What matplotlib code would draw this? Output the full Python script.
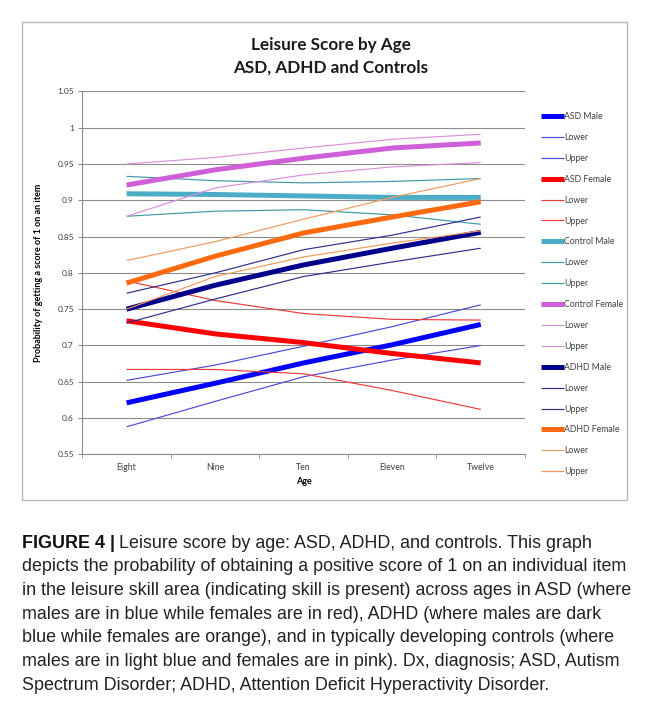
import matplotlib
matplotlib.use("Agg")
import matplotlib.pyplot as plt
from matplotlib.patches import Rectangle

ages = ["Eight", "Nine", "Ten", "Eleven", "Twelve"]

asd_male = [0.621, 0.648, 0.676, 0.701, 0.729]
asd_male_lower = [0.588, 0.623, 0.657, 0.680, 0.700]
asd_male_upper = [0.652, 0.673, 0.699, 0.726, 0.756]
asd_female = [0.734, 0.716, 0.704, 0.689, 0.676]
asd_female_lower = [0.667, 0.667, 0.661, 0.638, 0.612]
asd_female_upper = [0.789, 0.762, 0.744, 0.736, 0.735]
control_male = [0.909, 0.908, 0.906, 0.904, 0.904]
control_male_lower = [0.878, 0.885, 0.887, 0.880, 0.867]
control_male_upper = [0.933, 0.927, 0.924, 0.926, 0.930]
control_female = [0.921, 0.942, 0.958, 0.972, 0.979]
control_female_lower = [0.878, 0.917, 0.935, 0.946, 0.952]
control_female_upper = [0.950, 0.959, 0.972, 0.984, 0.991]
adhd_male = [0.750, 0.783, 0.811, 0.834, 0.856]
adhd_male_lower = [0.731, 0.764, 0.795, 0.815, 0.834]
adhd_male_upper = [0.772, 0.800, 0.832, 0.852, 0.877]
adhd_female = [0.786, 0.823, 0.855, 0.877, 0.898]
adhd_female_lower = [0.750, 0.795, 0.822, 0.841, 0.858]
adhd_female_upper = [0.817, 0.843, 0.874, 0.904, 0.930]

y_ticks = [0.55, 0.6, 0.65, 0.7, 0.75, 0.8, 0.85, 0.9, 0.95, 1.0, 1.05]
y_tick_labels = ["0.55", "0.6", "0.65", "0.7", "0.75", "0.8", "0.85", "0.9", "0.95", "1", "1.05"]

caption_lines = [
    "Leisure score by age: ASD, ADHD, and controls. This graph",
    "depicts the probability of obtaining a positive score of 1 on an individual item",
    "in the leisure skill area (indicating skill is present) across ages in ASD (where",
    "males are in blue while females are in red), ADHD (where males are dark",
    "blue while females are orange), and in typically developing controls (where",
    "males are in light blue and females are in pink). Dx, diagnosis; ASD, Autism",
    "Spectrum Disorder; ADHD, Attention Deficit Hyperactivity Disorder.",
]

THICK = 3.6
THIN = 0.85

# label, values, colour, width  (drawn in legend order)
series = [
    ("ASD Male", asd_male, "#0000ff", THICK),
    ("Lower", asd_male_lower, "#4a4ad8", THIN),
    ("Upper", asd_male_upper, "#4a4ad8", THIN),
    ("ASD Female", asd_female, "#ff0000", THICK),
    ("Lower", asd_female_lower, "#f03a3a", THIN),
    ("Upper", asd_female_upper, "#f03a3a", THIN),
    ("Control Male", control_male, "#4bacc6", THICK),
    ("Lower", control_male_lower, "#3f98a6", THIN),
    ("Upper", control_male_upper, "#3f98a6", THIN),
    ("Control Female", control_female, "#cf5fd8", THICK),
    ("Lower", control_female_lower, "#da8fdc", THIN),
    ("Upper", control_female_upper, "#da8fdc", THIN),
    ("ADHD Male", adhd_male, "#00008b", THICK),
    ("Lower", adhd_male_lower, "#2e2e8c", THIN),
    ("Upper", adhd_male_upper, "#2e2e8c", THIN),
    ("ADHD Female", adhd_female, "#ff6a10", THICK),
    ("Lower", adhd_female_lower, "#f29a5c", THIN),
    ("Upper", adhd_female_upper, "#f29a5c", THIN),
]

W, H = 647, 712
fig = plt.figure(figsize=(W / 100, H / 100), dpi=100)
fig.patch.set_facecolor("white")

# chart frame
fig.patches.append(Rectangle((22 / W, 1 - 500 / H), 605 / W, 478 / H, transform=fig.transFigure,
                             fill=False, edgecolor="#b8b8b8", linewidth=1.0))

ax = fig.add_axes([82.3 / W, 1 - 454.4 / H, 442.7 / W, 363 / H])
x = list(range(len(ages)))
for label, vals, col, lw in series:
    ax.plot(x, vals, color=col, linewidth=lw, label=label, solid_capstyle="butt")

ax.set_xlim(-0.5, len(ages) - 0.5)
ax.set_ylim(0.55, 1.05)
ax.set_yticks(y_ticks)
ax.set_yticklabels(y_tick_labels)
ax.set_xticks(x)
ax.set_xticklabels(ages)
ax.set_xticks([i - 0.5 for i in range(len(ages) + 1)], minor=True)
ax.tick_params(axis="x", which="major", length=0, pad=6, labelsize=6.3, labelcolor="#404040")
ax.tick_params(axis="x", which="minor", length=3, direction="out", color="#8c8c8c")
ax.tick_params(axis="y", length=3, direction="out", color="#8c8c8c", pad=3, labelsize=6,
               labelcolor="#404040")
for lab in ax.get_xticklabels() + ax.get_yticklabels():
    lab.set_family("Lato")
ax.grid(axis="y", color="#8c8c8c", linewidth=0.8)
ax.set_axisbelow(True)
for s in ["top", "right"]:
    ax.spines[s].set_visible(False)
for s in ["left", "bottom"]:
    ax.spines[s].set_color("#8c8c8c")
    ax.spines[s].set_linewidth(0.8)

ax.set_xlabel("Age", fontsize=6.5, fontweight="bold", family="Lato", labelpad=4)
ax.set_ylabel("Probability of getting a score of 1 on an item", fontsize=6.5,
              fontweight="bold", family="Lato", labelpad=10)

fig.text(331 / W, 1 - 45 / H, "Leisure Score by Age", ha="center", va="center",
         fontsize=12.3, fontweight="bold", family="Lato", color="#1a1a1a")
fig.text(331 / W, 1 - 68 / H, "ASD, ADHD and Controls", ha="center", va="center",
         fontsize=12.3, fontweight="bold", family="Lato", color="#1a1a1a")

fig.legend(loc="upper left", bbox_to_anchor=(541 / W, 1 - 112 / H), frameon=False,
           borderpad=0, borderaxespad=0, handlelength=2.6, handletextpad=0.05,
           labelspacing=1.36, prop={"family": "Lato", "size": 6.3}, labelcolor="#404040")

# caption: bold figure number, then the text
cap_size = 12.85
line_h = 23.7
y0 = 543
head = fig.text(22 / W, 1 - y0 / H, "FIGURE 4 |", ha="left", va="center", fontsize=cap_size,
                fontweight="bold", family="Liberation Sans", color="#111111")
fig.canvas.draw()
bb = head.get_window_extent(fig.canvas.get_renderer())
fig.text((bb.x1 + 4) / W, 1 - y0 / H, caption_lines[0], ha="left", va="center",
         fontsize=cap_size, family="Liberation Sans", color="#222222")
for i, line in enumerate(caption_lines[1:], start=1):
    fig.text(22 / W, 1 - (y0 + i * line_h) / H, line, ha="left", va="center",
             fontsize=cap_size, family="Liberation Sans", color="#222222")

fig.savefig("out.png", dpi=100, facecolor="white")
